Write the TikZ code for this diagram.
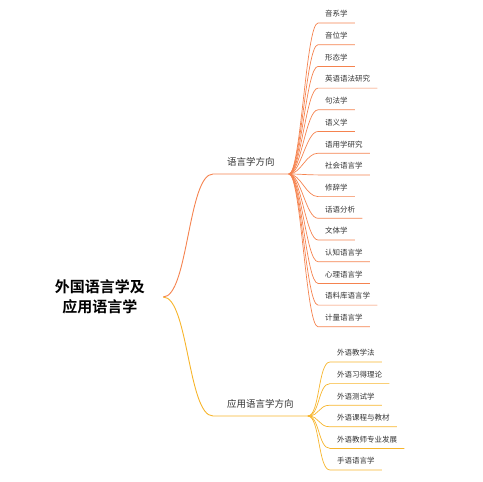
\documentclass[tikz,border=0pt]{standalone}
\usepackage{fontspec}
\setmainfont{Noto Sans CJK SC}[BoldFont={Noto Sans CJK SC Bold}]
\definecolor{lingorange}{HTML}{F5834F}
\definecolor{appyellow}{HTML}{F7B52C}
\definecolor{txtgray}{HTML}{333333}

\begin{document}
\begin{tikzpicture}[x=1pt,y=-1pt,
	root/.style={font=\fontsize{15}{20}\selectfont\bfseries,align=center,inner xsep=18pt,text=black},
	branch/.style={font=\fontsize{9.5}{11}\selectfont,anchor=south west,inner xsep=14pt,inner ysep=0pt,text depth=8.5pt,text=txtgray},
	leaf/.style={font=\fontsize{7.5}{9}\selectfont,anchor=south west,inner xsep=7pt,inner ysep=0pt,text depth=6pt,text=txtgray},
	lnkA/.style={draw=lingorange,line width=.9pt},
	lnkB/.style={draw=appyellow,line width=.9pt}]
	\useasboundingbox (0,0) rectangle (483,482);

	\node[root] (root) at (100,297) {外国语言学及\\应用语言学};

	% main branches
	\node[branch] (ling) at (213,174) {语言学方向};
	\node[branch] (app) at (213,416) {应用语言学方向};
	\draw[lnkA] (root.east) .. controls +(25,0) and +(-25,0) .. (ling.south west) -- (ling.south east);
	\draw[lnkB] (root.east) .. controls +(25,0) and +(-25,0) .. (app.south west) -- (app.south east);

	% linguistics
	\foreach \t [count=\i] in {音系学,音位学,形态学,英语语法研究,句法学,语义学,语用学研究,社会语言学,修辞学,话语分析,文体学,认知语言学,心理语言学,语料库语言学,计量语言学}{
		\node[leaf] (ling\i) at (318,{23+21.7*(\i-1)}) {\t};
		\draw[lnkA,line width=.7pt] (ling.south east) .. controls +(12,0) and +(-12,0) .. (ling\i.south west) -- (ling\i.south east);
	}

	% applied linguistics
	\foreach \t [count=\i] in {外语教学法,外语习得理论,外语测试学,外语课程与教材,外语教师专业发展,手语语言学}{
		\node[leaf] (app\i) at (330,{362+21.6*(\i-1)}) {\t};
		\draw[lnkB,line width=.7pt] (app.south east) .. controls +(12,0) and +(-12,0) .. (app\i.south west) -- (app\i.south east);
	}
\end{tikzpicture}
\end{document}
